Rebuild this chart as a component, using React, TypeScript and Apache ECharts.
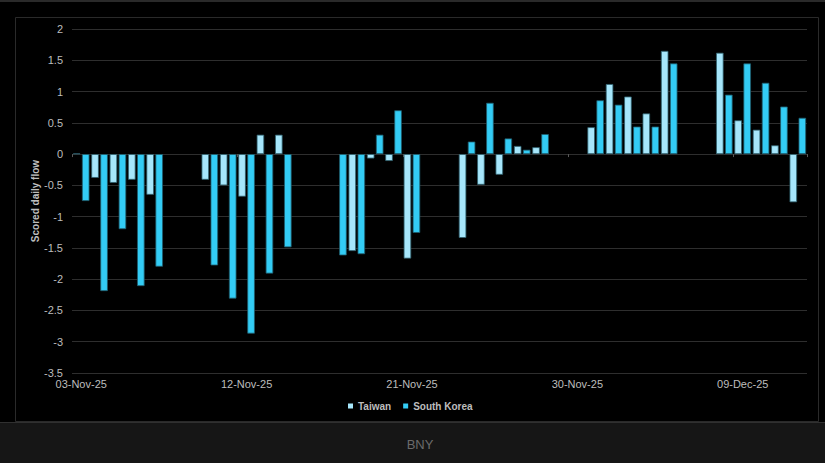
import React, { useEffect, useRef } from "react";
import * as echarts from "echarts";

const categories = [
  "03-Nov-25", "04-Nov-25", "05-Nov-25", "06-Nov-25", "07-Nov-25", "08-Nov-25", "09-Nov-25",
  "10-Nov-25", "11-Nov-25", "12-Nov-25", "13-Nov-25", "14-Nov-25", "15-Nov-25", "16-Nov-25",
  "17-Nov-25", "18-Nov-25", "19-Nov-25", "20-Nov-25", "21-Nov-25", "22-Nov-25", "23-Nov-25",
  "24-Nov-25", "25-Nov-25", "26-Nov-25", "27-Nov-25", "28-Nov-25", "29-Nov-25", "30-Nov-25",
  "01-Dec-25", "02-Dec-25", "03-Dec-25", "04-Dec-25", "05-Dec-25", "06-Dec-25", "07-Dec-25",
  "08-Dec-25", "09-Dec-25", "10-Dec-25", "11-Dec-25", "12-Dec-25",
];

const taiwan = [
  0.01, -0.38, -0.46, -0.41, -0.65, null, null,
  -0.41, -0.5, -0.68, 0.31, 0.31, null, null,
  null, -1.55, -0.07, -0.11, -1.67, null, null,
  -1.34, -0.49, -0.33, 0.13, 0.11, null, null,
  0.43, 1.12, 0.92, 0.65, 1.65, null, null,
  1.62, 0.54, 0.39, 0.14, -0.77,
];

const southKorea = [
  -0.75, -2.19, -1.2, -2.11, -1.8, null, null,
  -1.78, -2.31, -2.87, -1.91, -1.49, null, null,
  -1.62, -1.6, 0.31, 0.7, -1.26, null, null,
  0.2, 0.82, 0.25, 0.07, 0.32, null, null,
  0.86, 0.79, 0.44, 0.44, 1.45, null, null,
  0.95, 1.45, 1.14, 0.76, 0.58,
];

const seriesNames = ["Taiwan", "South Korea"];
const yTitle = "Scored daily flow";
const footer = "BNY";

export default function App() {
  const ref = useRef<HTMLDivElement>(null);
  useEffect(() => {
    if (!ref.current) return;
    const chart = echarts.init(ref.current, null, { renderer: "svg" });
    const font = "'Liberation Sans', Arial, sans-serif";
    const labelColor = "#bdbdbd";
    chart.setOption({
      animation: false,
      backgroundColor: "#000000",
      textStyle: { fontFamily: font },
      grid: { left: 72, right: 18, top: 29, bottom: 90, containLabel: false },
      legend: {
        data: seriesNames,
        left: 343,
        top: 396,
        icon: "rect",
        itemWidth: 5,
        itemHeight: 5,
        itemGap: 12,
        itemStyle: { borderWidth: 0 },
        textStyle: { color: labelColor, fontSize: 10, fontWeight: "bold", fontFamily: font },
      },
      xAxis: [
        {
          type: "category",
          data: categories,
          boundaryGap: true,
          axisLine: { show: false, onZero: false },
          axisTick: { show: false },
          axisLabel: { interval: 8, color: labelColor, fontSize: 11, margin: 5, fontFamily: font },
          splitLine: { show: false },
        },
        {
          type: "category",
          data: categories,
          boundaryGap: true,
          position: "bottom",
          axisLine: { show: false, onZero: true },
          axisTick: { show: true, interval: 8, length: 3, lineStyle: { color: "#595959" } },
          axisLabel: { show: false },
          splitLine: { show: false },
        },
      ],
      yAxis: {
        type: "value",
        min: -3.5,
        max: 2,
        interval: 0.5,
        name: yTitle,
        nameLocation: "middle",
        nameGap: 32,
        nameMoveOverlap: false,
        nameTextStyle: { color: labelColor, fontSize: 10, fontWeight: "bold", fontFamily: font },
        axisLine: { show: false },
        axisTick: { show: false },
        axisLabel: { color: labelColor, fontSize: 11, margin: 9, fontFamily: font },
        splitLine: { lineStyle: { color: "#2e2e2e", width: 1 } },
      },
      series: [
        {
          name: seriesNames[0],
          type: "bar",
          data: taiwan,
          barGap: "20%",
          barCategoryGap: "10%",
          itemStyle: { color: "#a6e6fb", borderColor: "#2f5f6d", borderWidth: 0.8 },
        },
        {
          name: seriesNames[1],
          type: "bar",
          data: southKorea,
          barGap: "20%",
          barCategoryGap: "10%",
          itemStyle: { color: "#33ccf5", borderColor: "#1f5c6c", borderWidth: 0.8 },
        },
      ],
      graphic: [
        { type: "rect", silent: true, z: -10, shape: { x: 0, y: 0, width: 825, height: 2 }, style: { fill: "#2a2a2a" } },
        {
          type: "rect",
          silent: true,
          z: -10,
          shape: { x: 15.5, y: 17.5, width: 803, height: 404 },
          style: { fill: "none", stroke: "#2a2a2a", lineWidth: 1 },
        },
        { type: "rect", silent: true, z: -10, shape: { x: 0, y: 423, width: 825, height: 40 }, style: { fill: "#161616" } },
        { type: "line", silent: true, z: -9, shape: { x1: 0, y1: 422.5, x2: 825, y2: 422.5 }, style: { stroke: "#303030", lineWidth: 1 } },
        {
          type: "text",
          silent: true,
          x: 420,
          y: 444,
          style: { text: footer, fill: "#6b6b6b", fontSize: 13, fontFamily: font, align: "center", verticalAlign: "middle" },
        },
      ],
    });
    return () => chart.dispose();
  }, []);
  return <div ref={ref} style={{ position: "fixed", left: 0, top: 0, width: 825, height: 463 }} />;
}
